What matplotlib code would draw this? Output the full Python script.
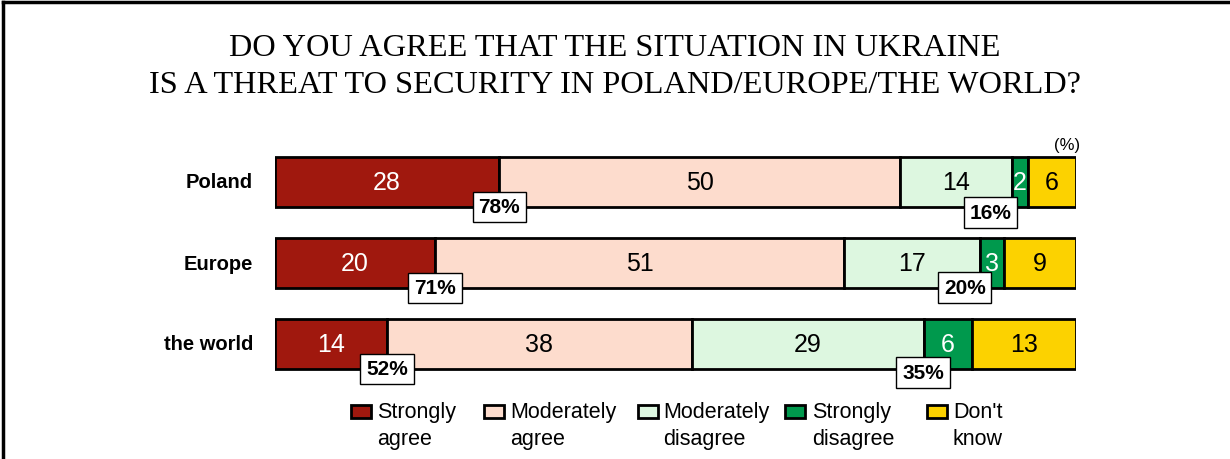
import matplotlib
matplotlib.use("Agg")
import matplotlib.pyplot as plt
from matplotlib.patches import Rectangle
import numpy as np

# ---- data ----
regions = ["Poland", "Europe", "the world"]
categories = ["Strongly\nagree", "Moderately\nagree", "Moderately\ndisagree",
              "Strongly\ndisagree", "Don't\nknow"]
strongly_agree = [28, 20, 14]
moderately_agree = [50, 51, 38]
moderately_disagree = [14, 17, 29]
strongly_disagree = [2, 3, 6]
dont_know = [6, 9, 13]
agree_total_labels = ["78%", "71%", "52%"]
disagree_total_labels = ["16%", "20%", "35%"]
title = "DO YOU AGREE THAT THE SITUATION IN UKRAINE\nIS A THREAT TO SECURITY IN POLAND/EUROPE/THE WORLD?"

# ---- style ----
colors = ["#A0180E", "#FDDCCD", "#DDF7E0", "#00994D", "#FCD200"]
text_colors = ["white", "black", "black", "white", "black"]
sans = "Liberation Sans"
serif = "Liberation Serif"
# label nudges (x in data units, y in row units) for disagree total boxes
dis_dx = [-2.7, -1.9, -0.1]
dis_dy = [0.074, 0.0, 0.05]

W, H = 1230, 460
fig = plt.figure(figsize=(W / 100, H / 100), dpi=100)
fig.patch.set_facecolor("white")

# frame (top and left border lines)
fig.add_artist(plt.Line2D([3 / W, 1.0], [1 - 3 / H, 1 - 3 / H], color="black", lw=2.5))
fig.add_artist(plt.Line2D([3 / W, 3 / W], [0, 1 - 3 / H], color="black", lw=2.5))

# axes: x 0..100 -> px 275..1076, rows centered at 183/264/345
left_px, right_px = 275, 1076
top_px = 142.5
row_px = 81
ax = fig.add_axes([left_px / W, (H - (top_px + 3 * row_px)) / H,
                   (right_px - left_px) / W, 3 * row_px / H])
ax.set_xlim(0, 100)
ax.set_ylim(2.5, -0.5)
ax.axis("off")

series = [strongly_agree, moderately_agree, moderately_disagree,
          strongly_disagree, dont_know]
y = np.arange(len(regions))
bar_h = 0.605
lefts = np.zeros(len(regions))
for k, vals in enumerate(series):
    vals = np.array(vals, dtype=float)
    ax.barh(y, vals, left=lefts, height=bar_h, color=colors[k],
            edgecolor="black", linewidth=2.0, zorder=2)
    for i in range(len(regions)):
        ax.text(lefts[i] + vals[i] / 2, y[i], f"{int(vals[i])}",
                ha="center", va="center", fontsize=18, family=sans,
                color=text_colors[k], zorder=3)
    lefts += vals

# region labels
for i, r in enumerate(regions):
    ax.text(-2.75, y[i], r, ha="right", va="center", fontsize=14.5,
            fontweight="bold", family=sans, clip_on=False)

# cumulative boxes
box = dict(boxstyle="square,pad=0.28", facecolor="white", edgecolor="black", linewidth=1.0)
for i in range(len(regions)):
    xa = strongly_agree[i]
    ax.text(xa, y[i] + bar_h / 2 + 0.005, agree_total_labels[i], ha="center",
            va="center", fontsize=15, fontweight="bold", family=sans,
            bbox=box, zorder=5)
    xd = strongly_agree[i] + moderately_agree[i] + moderately_disagree[i]
    ax.text(xd + dis_dx[i], y[i] + bar_h / 2 + dis_dy[i], disagree_total_labels[i],
            ha="center", va="center", fontsize=15, fontweight="bold", family=sans,
            bbox=box, zorder=5)

# (%) marker
fig.text(1080 / W, 1 - 146 / H, "(%)", ha="right", va="center",
         fontsize=12, family=sans)

# title
fig.text(0.5, 1 - 67 / H, title, ha="center", va="center", fontsize=23.3,
         family=serif, linespacing=1.4)

# legend (manual)
sq_x = [351, 484, 638, 785, 927]
tx_x = [377, 510, 663, 812, 953]
sq_w, sq_h = 20, 13
sq_top = 406
for k in range(len(categories)):
    fig.add_artist(Rectangle((sq_x[k] / W, 1 - (sq_top + sq_h) / H), sq_w / W, sq_h / H,
                             facecolor=colors[k], edgecolor="black", linewidth=2.0,
                             transform=fig.transFigure))
    fig.text(tx_x[k] / W, 1 - 402 / H, categories[k], ha="left", va="top",
             fontsize=15.5, family=sans, linespacing=1.38)

fig.savefig("out.png", dpi=100, facecolor="white")
